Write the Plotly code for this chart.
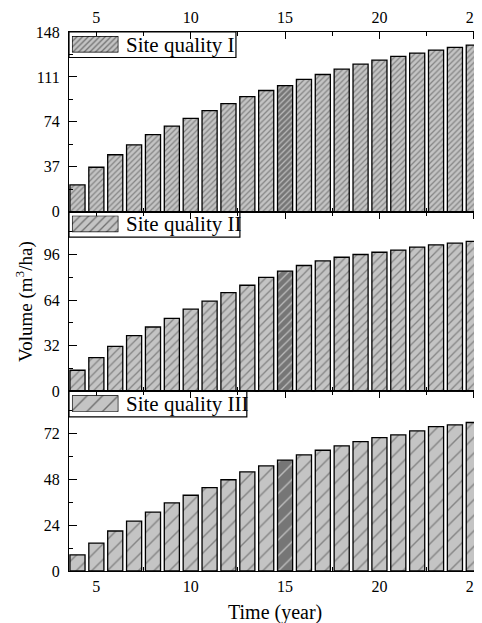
import plotly.graph_objects as go
from plotly.subplots import make_subplots

# ---------------- data ----------------
years = list(range(4, 26))
vol_I = [22.0, 36.6, 46.9, 55.1, 63.4, 70.5, 76.9, 83.2, 89.0, 94.8, 99.8,
         103.9, 108.9, 113.0, 117.4, 121.5, 124.8, 127.9, 130.6, 133.1, 135.3, 137.2]
vol_II = [14.8, 23.7, 31.6, 39.2, 45.2, 51.3, 57.7, 63.3, 69.4, 74.5, 80.0,
          84.4, 88.4, 91.6, 94.2, 96.1, 97.7, 99.2, 101.3, 102.9, 104.1, 105.3]
vol_III = [8.4, 14.6, 20.9, 26.1, 30.8, 35.6, 39.6, 43.6, 47.7, 51.8, 54.9,
           57.9, 60.7, 63.1, 65.4, 67.6, 69.7, 71.1, 73.2, 75.5, 76.4, 77.6]
site_labels = ["Site quality I", "Site quality II", "Site quality III"]
highlight_year = 15
y_dticks = [37, 32, 24]
y_max = [148, 126.2, 93.9]
x_title = "Time (year)"
y_title = "Volume (m<sup>3</sup>/ha)"

# ---------------- style ----------------
# the page body adds an 8px margin, so the figure is 8px smaller than the window
W, H = 474, 615
ML, MR, MT, MB = 61, 0, 24, 52
PW = W - ML - MR
PH = H - MT - MB
FONT = "Liberation Serif, Times New Roman, serif"
BASE = "#c4c4c4"
HIGH = "#767676"
HATCH = "#1a1a1a"
pattern_size = [4, 6, 11]
pattern_solid = [0.32, 0.22, 0.13]
box_w = [169, 173, 180]

series = [vol_I, vol_II, vol_III]
colors = [HIGH if y == highlight_year else BASE for y in years]

fig = make_subplots(rows=3, cols=1, vertical_spacing=0)
domains = [(2 / 3, 1.0), (1 / 3, 2 / 3), (0.0, 1 / 3)]

for i, vals in enumerate(series):
    fig.add_trace(go.Bar(
        x=years, y=vals, width=0.8,
        marker=dict(color=colors,
                    line=dict(color="black", width=1.3),
                    pattern=dict(shape="/", size=pattern_size[i], solidity=pattern_solid[i],
                                 fgcolor=HATCH, fillmode="overlay")),
        showlegend=False, hoverinfo="skip"), row=i + 1, col=1)

axis_common = dict(showline=True, linecolor="black", linewidth=1.3, ticks="inside",
                   tickcolor="black", tickwidth=1.2, showgrid=False, zeroline=False,
                   tickfont=dict(family=FONT, size=16, color="black"))

for i in range(3):
    xa = dict(axis_common, range=[3.55, 25.17], tickmode="linear", tick0=0, dtick=5,
              ticklen=7, mirror="allticks", layer="below traces",
              minor=dict(tick0=0, dtick=2.5, ticks="inside", ticklen=4,
                         tickcolor="black", tickwidth=1.2),
              ticklabeloverflow="allow", ticklabelstandoff=1)
    if i == 0:
        xa.update(side="top", showticklabels=True)
    elif i == 1:
        xa.update(showticklabels=False)
    else:
        xa.update(side="bottom", showticklabels=True)
    ya = dict(axis_common, range=[0, y_max[i]], tickmode="linear", tick0=0, dtick=y_dticks[i],
              ticklen=8, mirror=False, ticklabelstandoff=5,
              minor=dict(tick0=0, dtick=y_dticks[i] / 2, ticks="inside", ticklen=4,
                         tickcolor="black", tickwidth=1.2))
    fig.update_xaxes(xa, row=i + 1, col=1)
    fig.update_yaxes(ya, row=i + 1, col=1)

# ---------------- legends (one per panel) ----------------
shapes = []
annotations = []
for i in range(3):
    d1 = domains[i][1]
    k = i + 4
    fig.add_trace(go.Bar(
        x=[0], y=[1], width=[1], xaxis="x%d" % k, yaxis="y%d" % k, cliponaxis=False,
        marker=dict(color=BASE, line=dict(color="black", width=1.3),
                    pattern=dict(shape="/", size=pattern_size[i], solidity=pattern_solid[i],
                                 fgcolor=HATCH, fillmode="overlay")),
        showlegend=False, hoverinfo="skip"))
    fig.update_layout({
        "xaxis%d" % k: dict(domain=[3 / PW, 50 / PW], range=[-0.5, 0.5], visible=False,
                            anchor="y%d" % k, fixedrange=True),
        "yaxis%d" % k: dict(domain=[d1 - 20.5 / PH, d1 - 4.0 / PH], range=[0, 1],
                            visible=False, anchor="x%d" % k, fixedrange=True),
    })
    shapes.append(dict(type="rect", xref="paper", yref="paper", x0=0, x1=box_w[i] / PW,
                       y0=d1 - 25.5 / PH, y1=d1, line=dict(color="black", width=1.2),
                       fillcolor="rgba(0,0,0,0)", layer="above"))
    annotations.append(dict(text=site_labels[i], xref="paper", yref="paper",
                            x=56 / PW, y=d1 - 12.5 / PH, xanchor="left", yanchor="middle",
                            showarrow=False, font=dict(family=FONT, size=21, color="black")))

annotations.append(dict(text=y_title, xref="paper", yref="paper", x=-45 / PW, y=0.5,
                        xanchor="center", yanchor="middle", textangle=-90, showarrow=False,
                        font=dict(family=FONT, size=19, color="black")))
annotations.append(dict(text=x_title, xref="paper", yref="paper", x=209 / PW, y=-41 / PH,
                        xanchor="center", yanchor="middle", showarrow=False,
                        font=dict(family=FONT, size=20, color="black")))

fig.update_layout(width=W, height=H, margin=dict(l=ML, r=MR, t=MT, b=MB, pad=0),
                  paper_bgcolor="white", plot_bgcolor="rgba(0,0,0,0)",
                  bargap=0.2, shapes=shapes, annotations=annotations,
                  font=dict(family=FONT, color="black"))

fig.write_html("out.html")
